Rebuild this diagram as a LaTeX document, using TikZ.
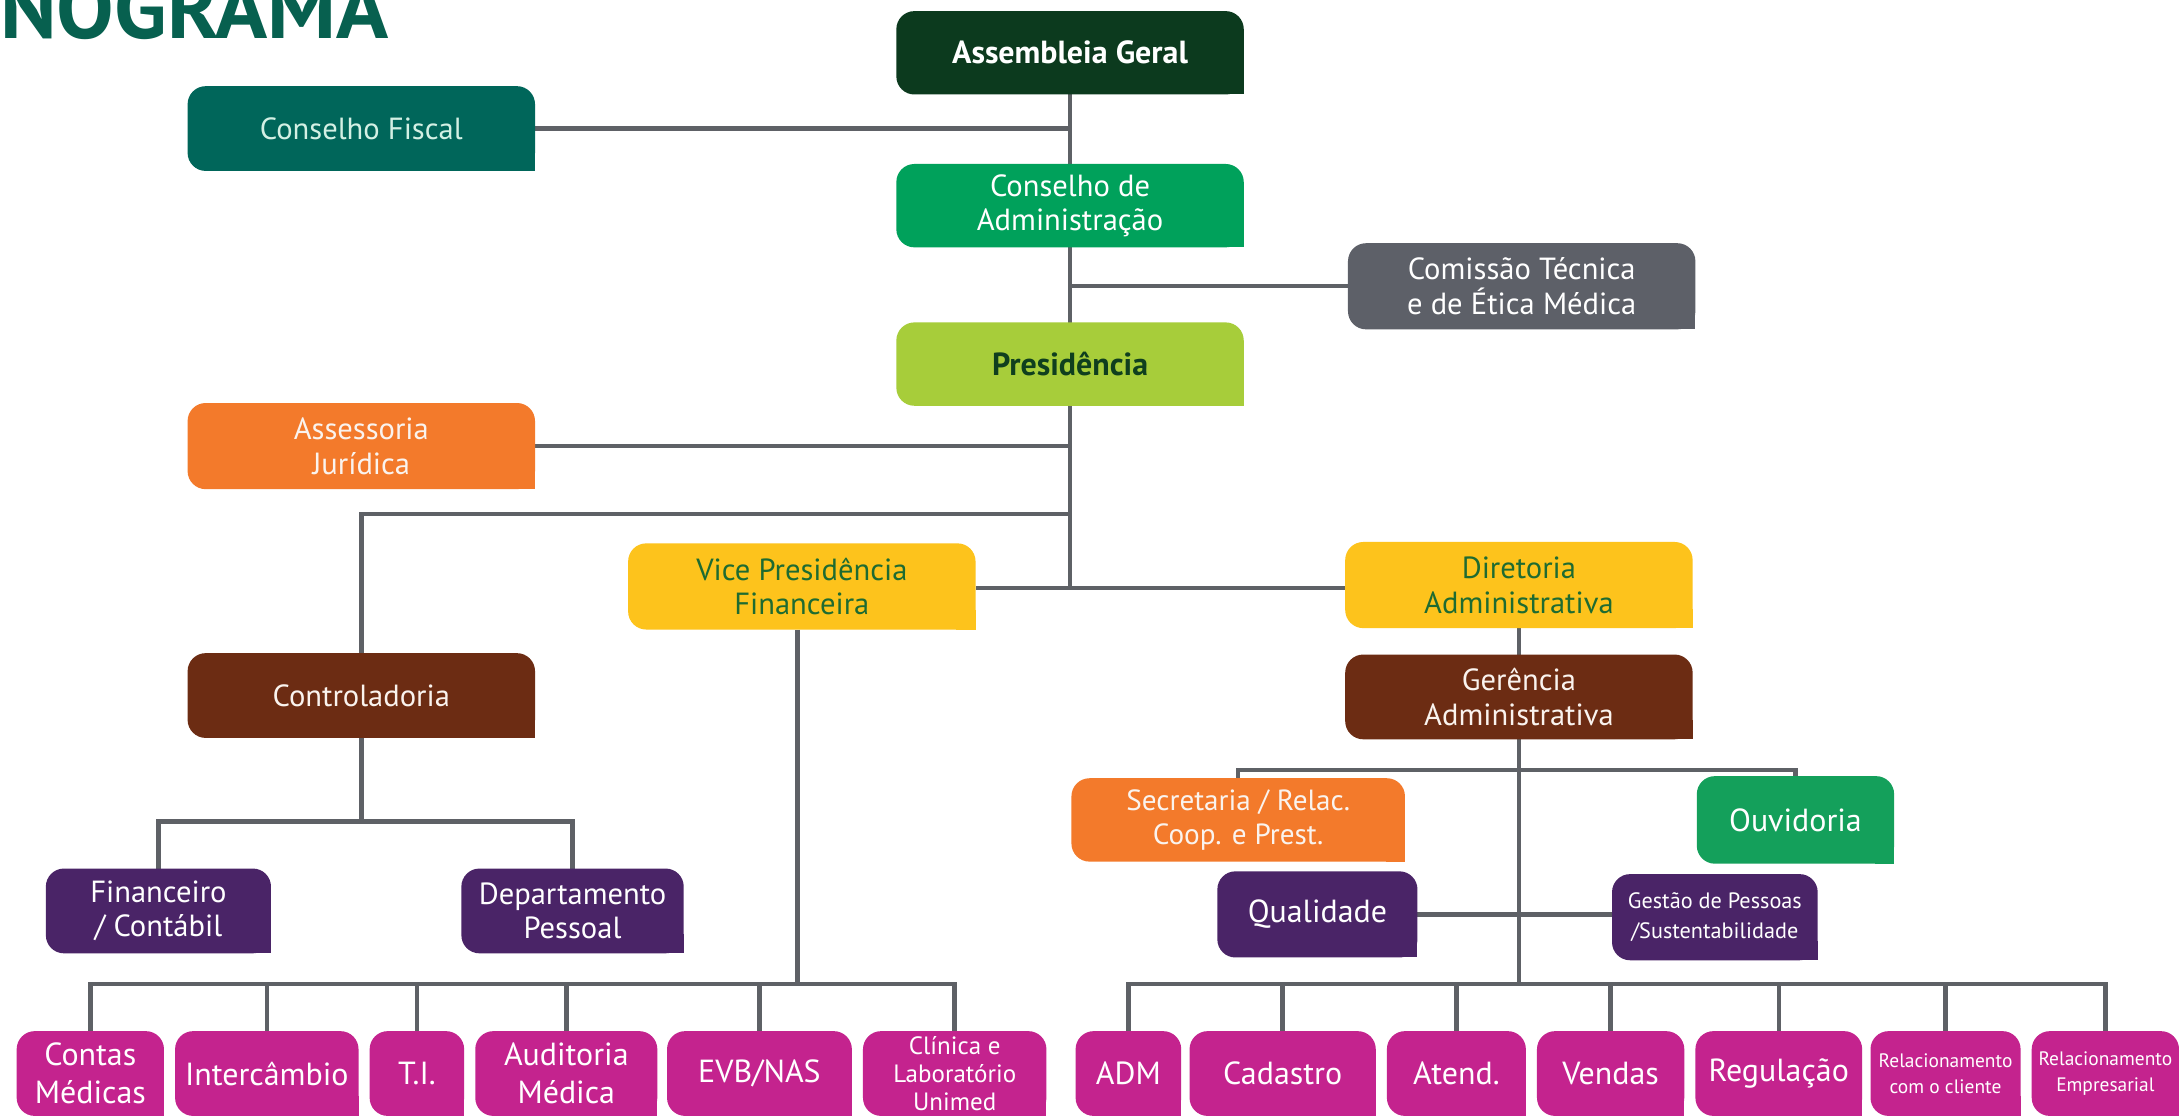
\documentclass[tikz,border=0pt]{standalone}
\usepackage{fontspec}
\setmainfont{PT Sans}
\usetikzlibrary{backgrounds}
\definecolor{lineg}{HTML}{5E6166}
\definecolor{titleg}{HTML}{07604F}
\definecolor{agreen}{HTML}{0C3A1E}
\definecolor{cfteal}{HTML}{00665A}
\definecolor{cfmint}{HTML}{D3F0E4}
\definecolor{cagreen}{HTML}{00A15B}
\definecolor{ctgray}{HTML}{5D6068}
\definecolor{prlime}{HTML}{A7CD3A}
\definecolor{orangeb}{HTML}{F37A2B}
\definecolor{yellowb}{HTML}{FDC31C}
\definecolor{brownb}{HTML}{6C2C13}
\definecolor{purpleb}{HTML}{4A2467}
\definecolor{ougreen}{HTML}{14A05B}
\definecolor{magentab}{HTML}{C4238E}
\definecolor{dkgtext}{HTML}{0F3F1E}
\definecolor{vptext}{HTML}{1E6B31}
\definecolor{lighttext}{HTML}{FAF3EE}
\tikzset{
  box/.style={rounded corners=13pt, inner sep=1pt, outer sep=0pt, align=center,
    text=lighttext, font=\fontsize{22}{25}\selectfont},
  conn/.style={draw=lineg, line width=3.2pt},
  big/.style={font=\fontsize{23}{27}\selectfont},
}
\newcommand\obox[8]{%
  \node[box, fill=#6, minimum width=#4pt, minimum height=#5pt, #7] (#1) at (#2,#3) {#8};
  \begin{pgfonlayer}{background}
    \fill[#6] (#1.south east) rectangle ++(-14pt,14pt);
  \end{pgfonlayer}
}
\begin{document}
\begin{tikzpicture}[x=1pt,y=-1pt]
\begin{pgfonlayer}{background}
\fill[white] (0,0) rectangle (1568,803);
\end{pgfonlayer}
\useasboundingbox (0,0) rectangle (1568,803);
% title
\node[anchor=base west, inner sep=0pt, text=titleg, font=\fontsize{62}{64}\selectfont\bfseries] (title) at (0,28) {NOGRAMA};
% top column
\obox{AG}{770}{38}{250}{60}{agreen}{font=\fontsize{23}{26}\selectfont\bfseries, text=white}{Assembleia Geral}
\obox{CF}{260}{92.5}{250}{61}{cfteal}{text=cfmint}{Conselho Fiscal}
\obox{CA}{770}{148}{250}{60}{cagreen}{text=white}{Conselho de\\Administração}
\obox{CT}{1095}{206}{250}{62}{ctgray}{text=white}{Comissão Técnica\\e de Ética Médica}
\obox{PR}{770}{262}{250}{60}{prlime}{font=\fontsize{23}{26}\selectfont\bfseries, text=dkgtext}{Presidência}
\obox{AJ}{260}{321}{250}{62}{orangeb}{}{Assessoria\\Jurídica}
\obox{VP}{577}{422}{250}{62}{yellowb}{text=vptext}{Vice Presidência\\Financeira}
\obox{DA}{1093}{421}{250}{62}{yellowb}{text=vptext}{Diretoria\\Administrativa}
\obox{CO}{260}{500.5}{250}{61}{brownb}{}{Controladoria}
\obox{GA}{1093}{501.5}{250}{61}{brownb}{}{Gerência\\Administrativa}
\obox{SE}{891}{590}{240}{60}{orangeb}{font=\fontsize{21}{24}\selectfont}{Secretaria / Relac.\\Coop. e Prest.}
\obox{OU}{1292}{590}{142}{63}{ougreen}{big, text=white}{Ouvidoria}
\obox{QU}{948}{658}{144}{62}{purpleb}{big, text=white}{Qualidade}
\obox{GP}{1234}{660}{148}{62}{purpleb}{font=\fontsize{16}{21}\selectfont, text=white}{Gestão de Pessoas\\/Sustentabilidade}
\obox{FI}{114}{655.5}{162}{61}{purpleb}{text=white}{Financeiro\\/ Contábil}
\obox{DP}{412}{655.5}{160}{61}{purpleb}{text=white}{Departamento\\Pessoal}
% bottom row
\obox{CM}{65}{772.5}{106}{61}{magentab}{font=\fontsize{23}{27}\selectfont, text=white}{Contas\\Médicas}
\obox{IN}{192}{772.5}{132}{61}{magentab}{big, text=white}{Intercâmbio}
\obox{TI}{300}{772.5}{68}{61}{magentab}{big, text=white}{T.I.}
\obox{AM}{407.5}{772.5}{131}{61}{magentab}{font=\fontsize{23}{27}\selectfont, text=white}{Auditoria\\Médica}
\obox{EV}{546.5}{772.5}{133}{61}{magentab}{big, text=white}{EVB/NAS}
\obox{CL}{687}{772.5}{132}{61}{magentab}{font=\fontsize{18}{20}\selectfont, text=white}{Clínica e\\Laboratório\\Unimed}
\obox{ADM}{812}{772.5}{76}{61}{magentab}{big, text=white}{ADM}
\obox{CAD}{923}{772.5}{134}{61}{magentab}{big, text=white}{Cadastro}
\obox{AT}{1048}{772.5}{100}{61}{magentab}{big, text=white}{Atend.}
\obox{VE}{1159}{772.5}{106}{61}{magentab}{big, text=white}{Vendas}
\obox{RE}{1280}{772.5}{120}{61}{magentab}{big, text=white}{Regulação}
\obox{RC}{1400}{772.5}{108}{61}{magentab}{font=\fontsize{14}{19}\selectfont, text=white}{Relacionamento\\com o cliente}
\obox{RM}{1515}{772.5}{106}{61}{magentab}{font=\fontsize{14}{19}\selectfont, text=white}{Relacionamento\\Empresarial}
% connectors
\coordinate (jT) at (770,423);
\coordinate (jL) at (770,370);
\coordinate (cbar) at (260,591);
\coordinate (lbar) at (574,708);
\coordinate (gbar) at (1093,554);
\coordinate (rbar) at (1093,708);
\begin{pgfonlayer}{background}
\draw[conn] (AG.south) -- (jT);
\draw[conn] (CF.east) -- (CF.east -| AG.south);
\draw[conn] (CT.west) -- (CT.west -| AG.south);
\draw[conn] (AJ.east) -- (AJ.east -| AG.south);
\draw[conn] (jL) -| (CO.north);
\draw[conn] (VP.east |- jT) -- (DA.west |- jT);
\draw[conn] (DA.south) -- (GA.north);
\draw[conn] (CO.south) -- (cbar);
\draw[conn] (FI.north) |- (cbar) -| (DP.north);
\draw[conn] (VP.south -| lbar) -- (lbar);
\draw[conn] (lbar) -| (CM.north);
\draw[conn] (lbar) -| (IN.north);
\draw[conn] (lbar) -| (TI.north);
\draw[conn] (lbar) -| (AM.north);
\draw[conn] (lbar) -| (EV.north);
\draw[conn] (lbar) -| (CL.north);
\draw[conn] (GA.south) -- (rbar);
\draw[conn] (SE.north) |- (gbar) -| (OU.north);
\draw[conn] (QU.east) -- (GP.west |- QU.east);
\draw[conn] (rbar) -| (ADM.north);
\draw[conn] (rbar) -| (CAD.north);
\draw[conn] (rbar) -| (AT.north);
\draw[conn] (rbar) -| (VE.north);
\draw[conn] (rbar) -| (RE.north);
\draw[conn] (rbar) -| (RC.north);
\draw[conn] (rbar) -| (RM.north);
\end{pgfonlayer}
\end{tikzpicture}
\end{document}
